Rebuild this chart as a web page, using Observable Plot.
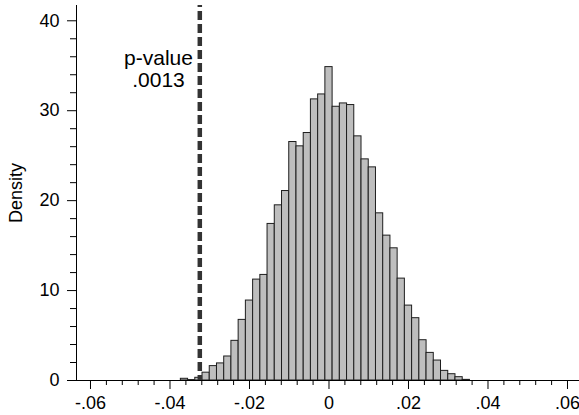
<!DOCTYPE html>
<html>
<head>
<meta charset="utf-8">
<script src="https://cdn.jsdelivr.net/npm/d3@7"></script>
<script src="https://cdn.jsdelivr.net/npm/@observablehq/plot@0.6"></script>
<style>
  body { margin: 0; background: #fff; }
  #chart svg { display: block; }
</style>
</head>
<body>
<div id="chart"></div>
<script>
// ---- data ----
const binWidth = 0.0018182;
const binCenters = [
  -0.03636, -0.03455, -0.03273, -0.03091, -0.02909, -0.02727, -0.02545, -0.02364,
  -0.02182, -0.02000, -0.01818, -0.01636, -0.01455, -0.01273, -0.01091, -0.00909,
  -0.00727, -0.00545, -0.00364, -0.00182, 0.00000, 0.00182, 0.00364, 0.00545,
  0.00727, 0.00909, 0.01091, 0.01273, 0.01455, 0.01636, 0.01818, 0.02000,
  0.02182, 0.02364, 0.02545, 0.02727, 0.02909, 0.03091, 0.03273, 0.03455
];
const density = [
  0.19, 0.05, 0.30, 0.87, 1.60, 1.90, 2.67, 4.41,
  6.74, 8.89, 11.22, 11.74, 17.41, 19.48, 21.07, 26.52,
  26.04, 27.52, 31.26, 31.81, 34.85, 30.44, 30.81, 30.63,
  27.15, 24.59, 23.70, 18.59, 16.11, 14.70, 11.33, 8.33,
  6.93, 4.48, 3.07, 2.22, 1.07, 0.70, 0.37, 0.07
];
const xTicks = [-0.06, -0.04, -0.02, 0, 0.02, 0.04, 0.06];
const yTicks = [0, 10, 20, 30, 40];
const observedValue = -0.0325;
const annotationText = "p-value\n.0013";
const yLabel = "Density";

// ---- derived tables ----
const bins = binCenters.map((c, i) => ({x1: c - binWidth / 2, x2: c + binWidth / 2, density: density[i]}));
const xMinor = d3.range(-15, 16).map(i => i * 0.004).filter(v => !xTicks.some(t => Math.abs(t - v) < 1e-9));
const yMinor = d3.range(0, 21).map(i => i * 2).filter(v => v % 10 !== 0);
const fmtX = d => d === 0 ? "0" : (d < 0 ? "-" : "") + Math.abs(d).toFixed(2).replace(/^0/, "");

const xDomain = [-0.06352, 0.06302];
const yDomain = [0, 41.7];

const chart = Plot.plot({
  width: 579,
  height: 415,
  marginLeft: 76,
  marginRight: 0,
  marginTop: 5,
  marginBottom: 35,
  style: {fontFamily: "'Liberation Sans', Arial, Helvetica, sans-serif", fontSize: "18px", color: "#000", background: "#fff"},
  x: {domain: xDomain},
  y: {domain: yDomain},
  marks: [
    Plot.rectY(bins, {x1: "x1", x2: "x2", y: "density", fill: "#bebebe", stroke: "#1e1e1e", strokeWidth: 1}),
    Plot.ruleY([0], {stroke: "#000", strokeWidth: 1}),
    Plot.ruleX([xDomain[0]], {stroke: "#000", strokeWidth: 1}),
    Plot.ruleX([observedValue], {y1: yDomain[1], y2: 0, stroke: "#333", strokeWidth: 4.5, strokeDasharray: "9,4", strokeDashoffset: 7}),
    Plot.axisY({ticks: yTicks, tickSize: 9, tickPadding: 8, fontSize: 18, label: null}),
    Plot.axisY({ticks: yMinor, tickSize: 6, tickFormat: () => "", label: null}),
    Plot.axisX({ticks: xTicks, tickSize: 9, tickPadding: 7, fontSize: 18, tickFormat: fmtX, label: null}),
    Plot.axisX({ticks: xMinor, tickSize: 5, tickFormat: () => "", label: null}),
    Plot.text([annotationText], {x: -0.0429, y: 36.8, text: d => d, textAnchor: "middle", lineAnchor: "top", fontSize: 21, lineHeight: 1.05, fill: "#000"}),
    Plot.text([yLabel], {frameAnchor: "left", dx: -60, rotate: -90, text: d => d, textAnchor: "middle", lineAnchor: "middle", fontSize: 18, fill: "#000"})
  ]
});
document.getElementById("chart").appendChild(chart);
</script>
</body>
</html>
